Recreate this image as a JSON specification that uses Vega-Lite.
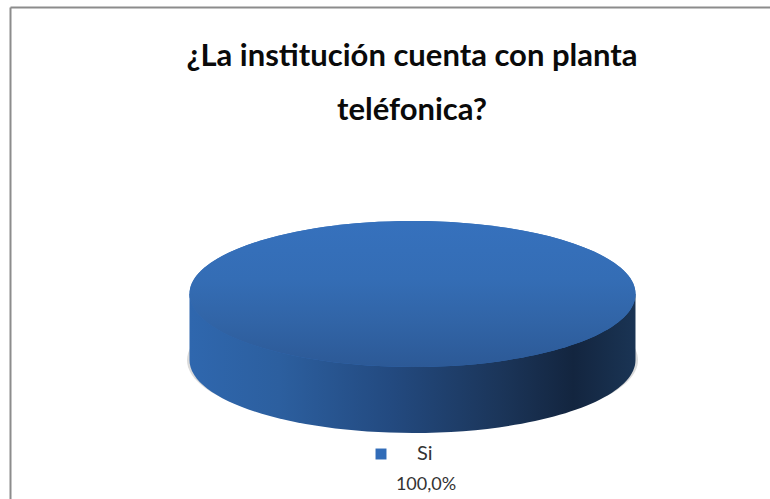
{
  "$schema": "https://vega.github.io/schema/vega-lite/v6.json",
  "width": 760,
  "height": 492,
  "padding": {"left": 10, "top": 7, "right": 0, "bottom": 0},
  "autosize": "none",
  "background": "#ffffff",
  "config": {"view": {"stroke": null}, "font": "Lato"},
  "title": {
    "text": ["¿La institución cuenta con planta", "teléfonica?"],
    "font": "Lato",
    "fontSize": 31,
    "fontWeight": 700,
    "color": "#0a0a0a",
    "lineHeight": 54,
    "anchor": "middle",
    "frame": "group",
    "baseline": "top",
    "offset": 0,
    "dx": 22,
    "dy": 120
  },
  "data": {"values": [{"respuesta": "Si", "porcentaje": 100.0}]},
  "transform": [
    {"calculate": "replace(format(datum.porcentaje, '.1f'), '.', ',') + '%'", "as": "etiqueta"}
  ],
  "layer": [
    {
      "description": "Soft shadow under the disc",
      "mark": {"type": "point", "filled": true, "size": 4, "opacity": 0.22, "fill": "#555555", "stroke": null,
        "shape": "M-225.5 0A225.5 71 0 1 1 225.5 0A225.5 71 0 1 1 -225.5 0Z"},
      "encoding": {
        "x": {"datum": 0.5296, "type": "quantitative", "scale": {"domain": [0, 1]},
          "axis": {"orient": "top", "title": null, "ticks": false, "labels": false, "grid": false,
            "domainColor": "#8c8c8c", "domainWidth": 2}},
        "y": {"datum": 0.7175, "type": "quantitative", "scale": {"domain": [0, 1], "reverse": true},
          "axis": {"orient": "left", "title": null, "ticks": false, "labels": false, "grid": false,
            "domainColor": "#8c8c8c", "domainWidth": 2}}
      }
    },
    {
      "description": "Side wall of the disc, shaded from left to right",
      "mark": {"type": "point", "filled": true, "size": 4, "opacity": 1, "stroke": null,
        "shape": "M-223 0L-223 66A223 73 0 0 0 223 66L223 0Z",
        "fill": {"gradient": "linear", "x1": 0, "y1": 0, "x2": 1, "y2": 0, "stops": [
          {"offset": 0, "color": "#2f67ae"},
          {"offset": 0.2, "color": "#2c5f9f"},
          {"offset": 0.45, "color": "#234a80"},
          {"offset": 0.7, "color": "#1b3559"},
          {"offset": 0.86, "color": "#13253f"},
          {"offset": 1, "color": "#1a3454"}
        ]}},
      "encoding": {
        "x": {"datum": 0.5296, "type": "quantitative"},
        "y": {"datum": 0.5833, "type": "quantitative"}
      }
    },
    {
      "description": "Top face of the single Si slice, carrying the legend colour",
      "mark": {"type": "point", "filled": true, "size": 4, "opacity": 1, "stroke": null,
        "shape": "M-223 0A223 73 0 1 1 223 0A223 73 0 1 1 -223 0Z"},
      "encoding": {
        "x": {"datum": 0.5296, "type": "quantitative"},
        "y": {"datum": 0.5833, "type": "quantitative"},
        "color": {"field": "respuesta", "type": "nominal", "scale": {"range": ["#316cb8"]},
          "legend": {"orient": "none", "legendX": 361, "legendY": 437, "title": null, "padding": 0,
            "symbolType": "square", "symbolSize": 120, "symbolOpacity": 1, "symbolStrokeWidth": 0,
            "labelFont": "Lato", "labelFontSize": 20, "labelColor": "#333333", "labelOffset": 26}}
      }
    },
    {
      "description": "Vertical shading on the top face",
      "mark": {"type": "point", "filled": true, "size": 4, "opacity": 1, "stroke": null,
        "shape": "M-223 0A223 73 0 1 1 223 0A223 73 0 1 1 -223 0Z",
        "fill": {"gradient": "linear", "x1": 0, "y1": 0, "x2": 0, "y2": 1, "stops": [
          {"offset": 0, "color": "#3671bd"},
          {"offset": 0.4, "color": "#346db5"},
          {"offset": 0.7, "color": "#3164a6"},
          {"offset": 1, "color": "#2c5996"}
        ]}},
      "encoding": {
        "x": {"datum": 0.5296, "type": "quantitative"},
        "y": {"datum": 0.5833, "type": "quantitative"}
      }
    },
    {
      "description": "Percentage under the legend entry",
      "mark": {"type": "text", "font": "Lato", "fontSize": 18, "color": "#333333", "align": "center", "baseline": "middle"},
      "encoding": {
        "x": {"datum": 0.5474, "type": "quantitative"},
        "y": {"datum": 0.9715, "type": "quantitative"},
        "text": {"field": "etiqueta", "type": "nominal"}
      }
    }
  ]
}
